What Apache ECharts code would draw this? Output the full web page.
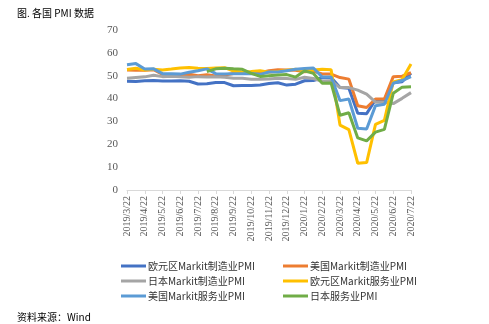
<!DOCTYPE html>
<html><head><meta charset="utf-8">
<script src="https://cdn.jsdelivr.net/npm/echarts@6/dist/echarts.min.js"></script>
<style>html,body{margin:0;padding:0;background:#fff}#c{width:489px;height:324px}</style>
</head><body><div id="c"></div>
<script>
var categories = ["2019/3/22","2019/4/1","2019/4/22","2019/5/1","2019/5/22","2019/6/1","2019/6/22","2019/7/1","2019/7/22","2019/8/1","2019/8/22","2019/9/1","2019/9/22","2019/10/1","2019/10/22","2019/11/1","2019/11/22","2019/12/1","2019/12/22","2020/1/1","2020/1/22","2020/2/1","2020/2/22","2020/3/1","2020/3/22","2020/4/1","2020/4/22","2020/5/1","2020/5/22","2020/6/1","2020/6/22","2020/7/1","2020/7/22"];
var euMfg = [47.6,47.5,47.8,47.9,47.7,47.7,47.8,47.6,46.4,46.5,47.0,47.0,45.6,45.7,45.7,45.9,46.6,46.9,45.9,46.3,47.8,47.9,49.1,49.2,44.8,44.5,33.6,33.4,39.5,39.4,46.9,47.4,51.1];
var usMfg = [52.5,52.4,52.4,52.6,50.6,50.5,50.1,50.6,50.0,50.4,49.9,50.3,51.0,51.1,51.5,51.3,52.2,52.6,52.5,52.4,51.7,51.9,50.8,50.7,49.2,48.5,36.9,36.1,39.8,39.8,49.6,49.8,51.3];
var jpMfg = [48.9,49.2,49.5,50.2,49.6,49.8,49.5,49.3,49.6,49.4,49.5,49.3,48.9,48.9,48.5,48.4,48.6,48.9,48.8,48.4,49.3,48.8,47.6,47.8,44.8,44.8,43.7,41.9,38.4,38.4,37.8,40.1,42.6];
var euSvc = [52.7,53.3,52.5,52.8,52.5,52.9,53.4,53.6,53.3,53.2,53.4,53.5,52.0,51.6,51.8,52.2,51.5,51.9,52.4,52.8,52.2,52.5,52.8,52.6,28.4,26.4,11.7,12.0,28.7,30.5,47.3,48.3,55.1];
var usSvc = [54.8,55.3,52.9,53.0,50.9,50.9,50.7,51.5,52.2,53.0,50.9,50.7,50.9,50.9,51.0,50.6,51.6,51.6,52.2,52.8,53.2,53.4,49.4,49.4,39.1,39.8,27.0,26.7,36.9,37.5,46.7,47.9,49.6];
var jpSvc = [null,null,null,null,null,null,null,null,null,51.8,53.0,53.3,53.0,52.8,51.0,49.7,50.0,50.3,50.5,49.4,52.1,51.0,46.7,46.8,32.7,33.8,22.8,21.5,25.3,26.5,42.3,45.0,45.2];
var names = ["欧元区Markit制造业PMI","美国Markit制造业PMI","日本Markit制造业PMI","欧元区Markit服务业PMI","美国Markit服务业PMI","日本服务业PMI"];
var colors = ["#4472C4","#ED7D31","#A5A5A5","#FFC000","#5B9BD5","#70AD47"];
var yTicks = [0,10,20,30,40,50,60,70];
var values = [euMfg, usMfg, jpMfg, euSvc, usSvc, jpSvc];

var chart = echarts.init(document.getElementById('c'), null, {renderer:'canvas'});
var legendCommon = {
  orient:'vertical', top:255, itemWidth:25, itemHeight:3, icon:'rect', itemGap:3,
  textStyle:{fontFamily:'Noto Sans CJK SC', fontSize:10, color:'#333', lineHeight:12, padding:[0,0,0,-3]}
};
chart.setOption({
  animation:false,
  title:[
    {text:'图. 各国 PMI 数据', left:12, top:3, textStyle:{fontFamily:'Noto Sans CJK SC', fontSize:10, fontWeight:'normal', color:'#000'}},
    {text:'资料来源：Wind', left:12, top:307, textStyle:{fontFamily:'Noto Sans CJK SC', fontSize:10, fontWeight:'normal', color:'#000'}}
  ],
  color: colors,
  legend:[
    Object.assign({left:116, data:[names[0],names[2],names[4]]}, legendCommon),
    Object.assign({left:278, data:[names[1],names[3],names[5]]}, legendCommon)
  ],
  grid:{left:127, right:78, top:30, bottom:134},
  xAxis:{type:'category', data:categories, boundaryGap:false,
    axisLine:{lineStyle:{color:'#D9D9D9'}},
    axisTick:{interval:1, length:4, lineStyle:{color:'#D9D9D9'}},
    axisLabel:{interval:1, rotate:90, fontFamily:'Liberation Serif', fontSize:10, color:'#595959', margin:6}
  },
  yAxis:{type:'value', min:yTicks[0], max:yTicks[yTicks.length-1], interval:10,
    axisLine:{show:false}, axisTick:{show:false}, splitLine:{show:false},
    axisLabel:{fontFamily:'Liberation Serif', fontSize:11, color:'#595959', margin:9}
  },
  series: values.map(function(v,i){
    return {name:names[i], type:'line', data:v, showSymbol:false, symbol:'none',
      lineStyle:{width:3, color:colors[i]}, itemStyle:{color:colors[i]}, connectNulls:false};
  })
});
</script></body></html>
